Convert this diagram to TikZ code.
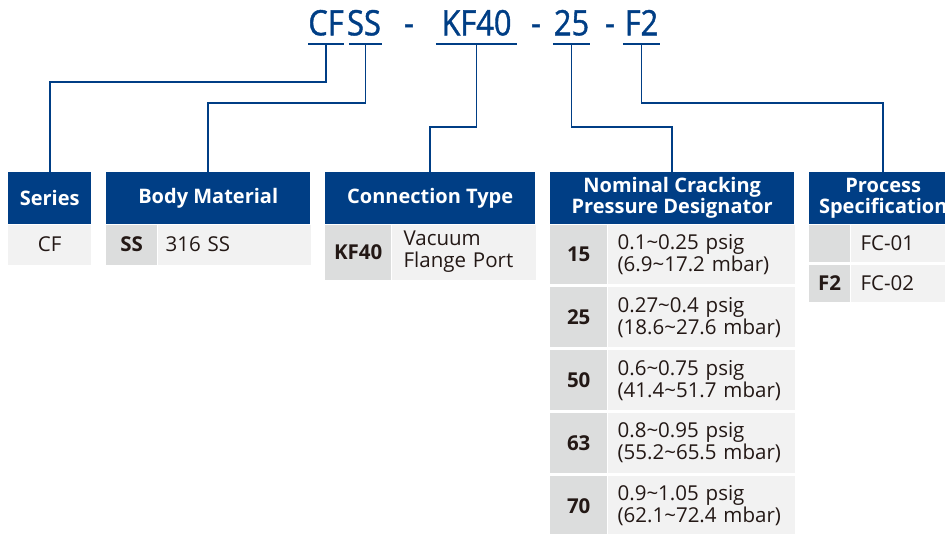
\documentclass[tikz,border=0pt]{standalone}
\usepackage{fontspec}
\setmainfont{Open Sans}
\newfontfamily\codetitlefont[FakeStretch=0.88, FakeBold=1.2]{Open Sans}
\usetikzlibrary{positioning}

\definecolor{codeblue}{HTML}{003E85}
\definecolor{celltext}{HTML}{231815}
\definecolor{codegray}{HTML}{DCDDDD}
\definecolor{valgray}{HTML}{F2F2F2}

\begin{document}
\begin{tikzpicture}[
    x=1pt, y=-1pt,
    title part/.style={anchor=south, inner xsep=0pt, inner ysep=8.5pt, text depth=0pt,
        text=codeblue, font=\codetitlefont\fontsize{35}{35}\selectfont},
    header/.style={anchor=north west, fill=codeblue, text=white, align=center,
        minimum height=52pt, inner sep=0pt, font=\fontsize{20}{22}\selectfont\bfseries},
    code cell/.style={fill=codegray, text=celltext, inner sep=0pt,
        font=\fontsize{20.5}{22}\selectfont\bfseries},
    value cell/.style={fill=valgray, text=celltext, align=left, inner ysep=0pt,
        font=\fontsize{20.5}{22}\selectfont},
    underline/.style={codeblue, line width=1.8pt},
    connector/.style={codeblue, line width=1.8pt},
  ]
  \useasboundingbox (0,0) rectangle (945,534);
  \clip (0,0) rectangle (945,534);

  % ordering code
  \node[title part, minimum width=34pt] (t cf) at (326,44) {CF};
  \node[title part, minimum width=33pt] (t ss) at (365.5,44) {\kern-3pt SS};
  \node[title part] (t dash1) at (409,44) {-};
  \node[title part, minimum width=81pt] (t kf) at (476.5,44) {KF40};
  \node[title part] (t dash2) at (536,44) {-};
  \node[title part, minimum width=37pt] (t 25) at (571.5,44) {25};
  \node[title part] (t dash3) at (610,44) {-};
  \node[title part, minimum width=37pt] (t f2) at (641.5,44) {F2};

  \draw[underline] (t cf.south west) -- (t cf.south east);
  \draw[underline] (t ss.south west) -- (t ss.south east);
  \draw[underline] (t kf.south west) -- (t kf.south east);
  \draw[underline] (t 25.south west) -- (t 25.south east);
  \draw[underline] (t f2.south west) -- (t f2.south east);

  % Series
  \node[header, minimum width=83pt] (series) at (8,172) {Series};
  \node[value cell, align=center, text width=83pt, inner xsep=0pt, minimum height=40pt,
        below=0pt of series] (series cf) {CF};

  % Body Material
  \node[header, minimum width=204pt] (body) at (106,172) {Body Material};
  \node[code cell, anchor=north west, minimum width=51pt, minimum height=40pt]
        (body ss) at (body.south west) {SS};
  \node[value cell, text width=137pt, inner xsep=8pt, minimum height=40pt,
        right=0pt of body ss] (body ss val) {316 SS};

  % Connection Type
  \node[header, minimum width=210pt] (conn) at (325,172) {Connection Type};
  \node[code cell, anchor=north west, minimum width=66pt, minimum height=55pt]
        (conn kf) at (conn.south west) {KF40};
  \node[value cell, text width=120pt, inner xsep=12pt, minimum height=55pt,
        right=0pt of conn kf] (conn kf val) {Vacuum\\Flange Port};

  % Nominal Cracking Pressure Designator
  \node[header, minimum width=244pt] (nominal) at (550,172)
        {Nominal Cracking\\[-1pt]Pressure Designator};
  \node[code cell, anchor=north west, minimum width=57pt, minimum height=59.5pt]
        (p15) at (nominal.south west) {15};
  \node[code cell, minimum width=57pt, minimum height=59.5pt, below=3pt of p15] (p25) {25};
  \node[code cell, minimum width=57pt, minimum height=59.5pt, below=3pt of p25] (p50) {50};
  \node[code cell, minimum width=57pt, minimum height=59.5pt, below=3pt of p50] (p63) {63};
  \node[code cell, minimum width=57pt, minimum height=59.5pt, below=3pt of p63] (p70) {70};
  \node[value cell, text width=167pt, inner xsep=10pt, minimum height=59.5pt, right=0pt of p15]
        (p15 val) {0.1\textasciitilde 0.25 psig\\(6.9\textasciitilde 17.2 mbar)};
  \node[value cell, text width=167pt, inner xsep=10pt, minimum height=59.5pt, right=0pt of p25]
        (p25 val) {0.27\textasciitilde 0.4 psig\\(18.6\textasciitilde 27.6 mbar)};
  \node[value cell, text width=167pt, inner xsep=10pt, minimum height=59.5pt, right=0pt of p50]
        (p50 val) {0.6\textasciitilde 0.75 psig\\(41.4\textasciitilde 51.7 mbar)};
  \node[value cell, text width=167pt, inner xsep=10pt, minimum height=59.5pt, right=0pt of p63]
        (p63 val) {0.8\textasciitilde 0.95 psig\\(55.2\textasciitilde 65.5 mbar)};
  \node[value cell, text width=167pt, inner xsep=10pt, minimum height=59.5pt, right=0pt of p70]
        (p70 val) {0.9\textasciitilde 1.05 psig\\(62.1\textasciitilde 72.4 mbar)};

  % Process Specification
  \node[header, minimum width=148pt] (process) at (809,172) {Process\\[-1pt]Specification};
  \node[code cell, anchor=north west, minimum width=41pt, minimum height=37pt]
        (fc01) at (process.south west) {};
  \node[code cell, minimum width=41pt, minimum height=37pt, below=3pt of fc01] (fc02) {F2};
  \node[value cell, text width=87pt, inner xsep=10pt, minimum height=37pt, right=0pt of fc01]
        (fc01 val) {FC-01};
  \node[value cell, text width=87pt, inner xsep=10pt, minimum height=37pt, right=0pt of fc02]
        (fc02 val) {FC-02};

  % connectors
  \draw[connector] (t cf.south) -- ++(0,38) -| (series.north);
  \draw[connector] (t ss.south) -- ++(0,59) -| (body.north);
  \draw[connector] (t kf.south) -- ++(0,83) -| (conn.north);
  \draw[connector] (t 25.south) -- ++(0,83) -| (nominal.north);
  \draw[connector] (t f2.south) -- ++(0,59) -| (process.north);
\end{tikzpicture}
\end{document}
